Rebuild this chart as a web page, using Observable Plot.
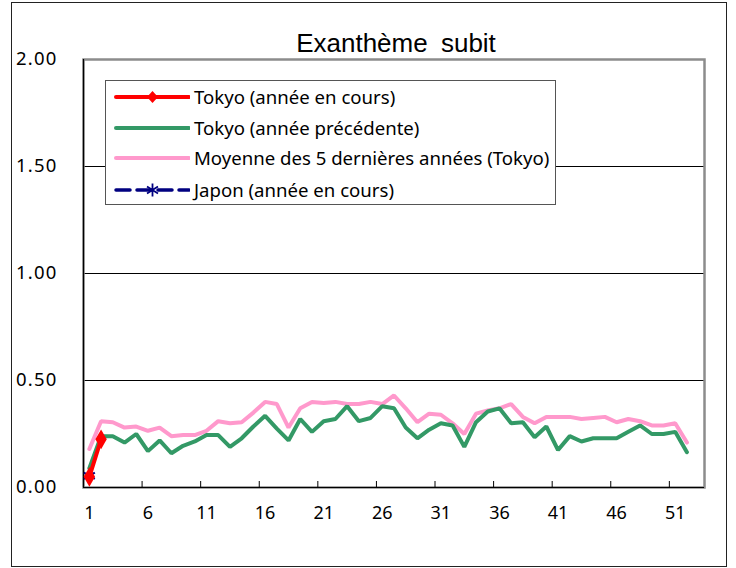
<!DOCTYPE html>
<html><head><meta charset="utf-8">
<script src="https://cdn.jsdelivr.net/npm/d3@7"></script>
<script src="https://cdn.jsdelivr.net/npm/@observablehq/plot@0.6"></script>
<style>
body{margin:0;background:#fff;}
#wrap{position:relative;width:736px;height:568px;font-family:"Noto Sans",sans-serif;}
#border{position:absolute;left:11px;top:2px;width:714px;height:563px;border:1px solid #222;pointer-events:none;}
#legend{position:absolute;left:105px;top:80px;width:449px;height:123px;border:1px solid #555;background:#fff;}
.row{position:absolute;left:0;height:24px;width:445px;}
.row svg{position:absolute;left:8px;top:0;}
.row span{position:absolute;left:88px;top:0;line-height:24px;font-size:18.6px;color:#000;white-space:nowrap;}
g[aria-label="y-axis tick label"] text{letter-spacing:1.2px;}
g.title text{word-spacing:6px;}
</style></head>
<body>
<div id="wrap"></div>
<script>
const title = "Exanthème subit";
const seriesNames = ["Tokyo (année en cours)", "Tokyo (année précédente)", "Moyenne des 5 dernières années (Tokyo)", "Japon (année en cours)"];
const tokyoCurrent = [0.05, 0.225];
const tokyoPrev = [0.09,0.24,0.24,0.21,0.25,0.17,0.22,0.16,0.195,0.215,0.245,0.245,0.19,0.23,0.285,0.335,0.275,0.22,0.32,0.26,0.31,0.32,0.38,0.31,0.325,0.38,0.37,0.28,0.23,0.27,0.30,0.29,0.19,0.305,0.355,0.37,0.30,0.305,0.235,0.285,0.175,0.24,0.215,0.23,0.23,0.23,0.26,0.29,0.25,0.25,0.26,0.165];
const avg5 = [0.18,0.31,0.305,0.28,0.285,0.265,0.28,0.24,0.245,0.245,0.265,0.31,0.30,0.305,0.35,0.40,0.39,0.28,0.37,0.40,0.395,0.40,0.39,0.39,0.40,0.39,0.43,0.37,0.305,0.345,0.34,0.30,0.25,0.345,0.36,0.37,0.39,0.33,0.30,0.33,0.33,0.33,0.32,0.325,0.33,0.305,0.32,0.31,0.29,0.29,0.30,0.21];
const japanCurrent = [0.055];
const yTicks = [0, 0.5, 1, 1.5, 2];
const xTickLabels = [1, 6, 11, 16, 21, 26, 31, 36, 41, 46, 51];
const xTickMarks = [5.5, 10.5, 15.5, 20.5, 25.5, 30.5, 35.5, 40.5, 45.5, 50.5];
const colors = ["#ff0000", "#339966", "#ff99cc", "#000080"];

const pts = arr => arr.map((v, i) => ({week: i + 1, value: v}));

const plot = Plot.plot({
  width: 736, height: 568,
  marginLeft: 83, marginRight: 32, marginTop: 59, marginBottom: 81,
  style: {fontFamily: "'Noto Sans', sans-serif", fontSize: "18px", color: "#000", background: "transparent", overflow: "visible"},
  x: {domain: [0.5, 53.5]},
  y: {domain: [0, 2]},
  marks: [
    Plot.gridY([0.5, 1, 1.5], {stroke: "#000", strokeOpacity: 1, strokeWidth: 1}),
    Plot.frame({stroke: "#8c8c8c", strokeWidth: 2.5}),
    Plot.ruleX([0.5], {stroke: "#000", strokeWidth: 1.2}),
    Plot.ruleY([0], {stroke: "#000", strokeWidth: 1.2}),
    Plot.ruleX(xTickMarks, {stroke: "#000", strokeWidth: 1, insetTop: 422}),
    Plot.axisY(yTicks, {tickSize: 0, tickPadding: 26, tickFormat: d3.format(".2f"), fontSize: 18.5, label: null}),
    Plot.axisX(xTickLabels, {tickSize: 0, tickPadding: 19, fontSize: 18, label: null}),
    Plot.line(pts(avg5), {x: "week", y: "value", stroke: colors[2], strokeWidth: 4, strokeLinejoin: "miter"}),
    Plot.line(pts(tokyoPrev), {x: "week", y: "value", stroke: colors[1], strokeWidth: 4, strokeLinejoin: "miter"}),
    Plot.line(pts(japanCurrent), {x: "week", y: "value", stroke: colors[3], strokeWidth: 3, strokeDasharray: "12,5"}),
    Plot.dot(pts(japanCurrent), {x: "week", y: "value", symbol: "asterisk", stroke: colors[3], strokeWidth: 2, r: 6}),
    Plot.line(pts(tokyoCurrent), {x: "week", y: "value", stroke: colors[0], strokeWidth: 4}),
    Plot.dot(pts(tokyoCurrent), {x: "week", y: "value", symbol: "diamond", fill: colors[0], r: 6}),
    Plot.text([title], {frameAnchor: "top", dy: -8, dx: 2, lineAnchor: "bottom", fontSize: 26, fontFamily: "'Liberation Sans', Arial, sans-serif", fill: "#000", className: "title"})
  ]
});

const wrap = document.getElementById("wrap");
wrap.appendChild(plot);
const border = document.createElement("div");
border.id = "border";
wrap.appendChild(border);

// legend
const legend = document.createElement("div");
legend.id = "legend";
const rowTops = [4, 35, 65, 97];
seriesNames.forEach((name, i) => {
  const row = document.createElement("div");
  row.className = "row";
  row.style.top = rowTops[i] + "px";
  const ns = "http://www.w3.org/2000/svg";
  const svg = document.createElementNS(ns, "svg");
  svg.setAttribute("width", 76); svg.setAttribute("height", 24);
  const line = document.createElementNS(ns, "line");
  line.setAttribute("x1", 2); line.setAttribute("x2", 75);
  line.setAttribute("y1", 12); line.setAttribute("y2", 12);
  line.setAttribute("stroke", colors[i]);
  line.setAttribute("stroke-width", i === 3 ? 3.5 : 4);
  line.setAttribute("stroke-linecap", "round");
  if (i === 3) line.setAttribute("stroke-dasharray", "14,7");
  svg.appendChild(line);
  if (i === 0) {
    const d = document.createElementNS(ns, "path");
    d.setAttribute("d", "M38.5,6L44,12L38.5,18L33,12Z");
    d.setAttribute("fill", colors[0]);
    svg.appendChild(d);
  }
  if (i === 3) {
    const a = document.createElementNS(ns, "path");
    a.setAttribute("d", "M38.5,5.5V18.5M33,8.5L44,15.5M33,15.5L44,8.5");
    a.setAttribute("stroke", colors[3]); a.setAttribute("stroke-width", 1.8);
    svg.appendChild(a);
  }
  row.appendChild(svg);
  const span = document.createElement("span");
  span.textContent = name;
  row.appendChild(span);
  legend.appendChild(row);
});
wrap.appendChild(legend);
</script>
</body></html>
